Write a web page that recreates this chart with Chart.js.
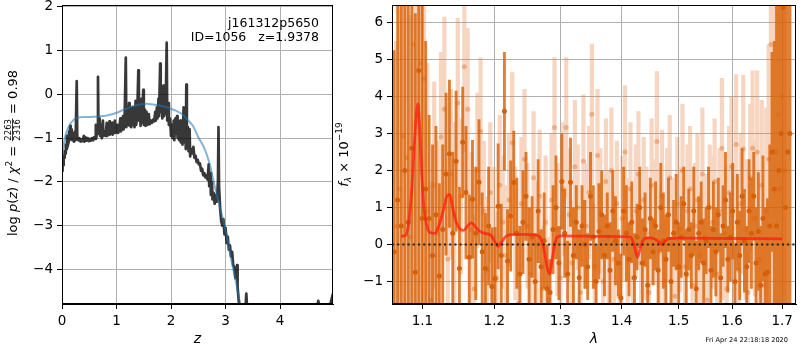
<!DOCTYPE html>
<html>
<head>
<meta charset="utf-8">
<script src="https://cdn.jsdelivr.net/npm/chart.js@4.4.1/dist/chart.umd.min.js"></script>
<style>
  html, body { margin: 0; padding: 0; background: #fff; }
  #wrap { position: relative; width: 800px; height: 350px; overflow: hidden; }
  .box { position: absolute; top: 0; height: 350px; }
</style>
</head>
<body>
<div id="wrap">
  <div class="box" style="left:0;width:340px"><canvas id="pz"></canvas></div>
  <div class="box" style="left:330px;width:470px"><canvas id="sp"></canvas></div>
</div>
<script>
// ---------- redshift probability panel ----------
const pzCurve = [
  [0,-1.75],[0.01,-1.55],[0.02,-1.62],[0.03,-1.40],[0.04,-1.45],[0.05,-1.30],[0.06,-1.35],[0.07,-1.15],
  [0.08,-1.25],[0.09,-0.95],[0.10,-1.20],[0.12,-1.10],[0.13,-0.85],[0.14,-1.05],[0.15,-0.72],[0.16,-1.00],
  [0.18,-0.80],[0.19,-1.05],[0.21,-0.90],[0.22,-1.08],[0.24,-0.85],[0.25,-1.05],[0.27,0.30],[0.28,-1.00],
  [0.30,-1.05],[0.32,-1.00],[0.34,-1.08],[0.36,-1.03],[0.38,-1.07],[0.40,-0.95],[0.41,-1.08],[0.43,-0.98],
  [0.45,-1.06],[0.47,-1.00],[0.49,-1.07],[0.51,-1.02],[0.53,-1.06],[0.55,-1.00],[0.57,-1.05],[0.59,-0.98],
  [0.61,-1.02],[0.62,-0.70],[0.63,-1.00],[0.65,-0.75],[0.66,0.40],[0.67,-0.90],[0.69,-0.55],[0.70,-0.95],
  [0.72,-0.70],[0.73,-1.00],[0.75,-0.60],[0.76,-0.95],[0.78,-0.85],[0.80,-0.95],[0.82,-0.65],[0.83,-0.95],
  [0.85,-0.90],[0.87,-0.62],[0.88,-0.92],[0.90,-0.88],[0.92,-0.65],[0.93,-0.92],[0.95,-0.85],[0.97,-0.60],
  [0.98,-0.88],[1.00,-0.85],[1.02,-0.70],[1.03,-0.88],[1.05,-0.80],[1.07,-0.55],[1.08,-0.85],[1.10,-0.78],
  [1.12,-0.50],[1.13,-0.80],[1.15,-0.45],[1.17,0.84],[1.18,-0.75],[1.20,-0.40],[1.21,-0.70],[1.23,-0.20],
  [1.24,-0.72],[1.26,-0.35],[1.27,-0.75],[1.29,-0.30],[1.30,-0.70],[1.32,-0.40],[1.33,-0.75],[1.35,-0.15],
  [1.36,-0.70],[1.38,-0.45],[1.40,0.55],[1.41,-0.60],[1.43,-0.30],[1.44,-0.72],[1.46,-0.10],[1.47,-0.65],
  [1.49,0.10],[1.50,-0.70],[1.52,-0.35],[1.53,-0.72],[1.55,-0.40],[1.57,-0.70],[1.59,-0.45],[1.61,-0.68],
  [1.63,-0.60],[1.65,-0.65],[1.67,-0.58],[1.69,-0.62],[1.71,-0.40],[1.72,-0.60],[1.74,-0.30],[1.75,-0.55],
  [1.77,-0.10],[1.78,-0.50],[1.80,0.70],[1.81,-0.40],[1.83,-0.10],[1.84,-0.55],[1.86,0.20],[1.87,-0.50],
  [1.89,-0.20],[1.90,-0.45],[1.92,1.18],[1.93,-0.60],[1.95,-0.20],[1.96,-0.70],[1.98,-0.55],[2.00,-0.95],
  [2.02,-0.70],[2.03,-1.00],[2.05,-0.60],[2.06,-1.05],[2.08,-0.55],[2.09,-0.90],[2.11,-0.50],[2.12,-1.00],
  [2.14,-0.65],[2.15,-1.05],[2.17,-0.60],[2.18,-1.10],[2.20,-0.75],[2.21,-1.15],[2.23,-0.30],[2.24,-1.10],
  [2.26,-0.40],[2.27,-1.25],[2.28,0.22],[2.29,-1.20],[2.31,-0.75],[2.32,-1.30],[2.34,-0.80],[2.35,-1.42],
  [2.37,-1.25],[2.39,-1.35],[2.41,-1.20],[2.43,-1.45],[2.45,-1.40],[2.47,-1.55],[2.49,-1.50],[2.51,-1.60],
  [2.53,-1.58],[2.55,-1.75],[2.57,-1.70],[2.59,-1.85],[2.61,-1.80],[2.63,-1.90],[2.65,-1.85],[2.67,-1.95],
  [2.69,-1.60],[2.70,-2.10],[2.72,-1.80],[2.73,-2.30],[2.75,-2.00],[2.76,-2.40],[2.78,-2.25],[2.80,-2.50],
  [2.82,-2.30],[2.84,-2.45],[2.86,-2.00],[2.87,-0.75],[2.88,-2.10],[2.90,-2.60],[2.92,-2.90],[2.94,-3.00],
  [2.96,-2.85],[2.98,-3.20],[3.00,-3.05],[3.02,-3.40],[3.04,-3.25],[3.06,-3.55],[3.08,-3.45],[3.10,-3.70],
  [3.12,-3.60],[3.14,-3.90],[3.16,-3.95],[3.18,-4.20],[3.20,-4.05],[3.21,-3.90],[3.22,-4.40],[3.24,-4.70],
  [3.26,-4.95],[3.30,-5.10],[3.36,-5.00],[3.38,-4.55],[3.40,-5.00],[3.45,-5.20],[3.60,-5.50],[4.00,-5.40],
  [4.50,-5.00],[4.68,-4.85],[4.70,-4.72],[4.72,-4.85],[4.90,-4.90],[4.97,-4.55]
];
const pzPrior = [
  [0,-1.45],[0.03,-1.15],[0.06,-0.95],[0.10,-0.80],[0.15,-0.68],[0.20,-0.60],[0.25,-0.55],[0.30,-0.53],
  [0.40,-0.52],[0.50,-0.52],[0.60,-0.51],[0.70,-0.50],[0.80,-0.49],[0.90,-0.46],[1.00,-0.42],[1.10,-0.37],
  [1.20,-0.32],[1.30,-0.27],[1.40,-0.24],[1.50,-0.22],[1.60,-0.22],[1.70,-0.24],[1.80,-0.26],[1.90,-0.29],
  [2.00,-0.33],[2.10,-0.38],[2.20,-0.45],[2.30,-0.58],[2.40,-0.72],[2.50,-0.98],[2.60,-1.20],[2.70,-1.55],
  [2.80,-2.10],[2.90,-2.60],[3.00,-3.10],[3.10,-3.75],[3.20,-4.35],[3.27,-4.80],[3.30,-5.00]
];
const pzXTicks = [0, 1, 2, 3, 4];
const pzYTicks = [-4, -3, -2, -1, 0, 1, 2];
const fieldName = 'j161312p5650';
const objLabel = 'ID=1056   z=1.9378';

// ---------- spectrum panel ----------
const LAM_STEP = 0.0046;
const DARK_LAM0 = 1.063;
const LIGHT_LAM0 = 1.0653;
const darkFlux = [
  -0.2,1.2,0.5,2.0,0.6,2.6,-0.75,4.7,0.7,1.5,
  0.7,-0.3,0.8,-0.85,0.4,1.9,2.45,0.3,2.25,-0.65,
  2.76,1.4,-0.35,1.22,0.3,1.68,-0.2,-0.65,0.5,-1.14,
  -0.93,1.03,-0.3,3.6,-0.45,0.77,1.67,0.3,-0.8,0.6,
  1.3,-0.4,0.2,-1.0,0.9,-0.6,0.1,-1.2,-1.3,0.4,
  1.0,-0.5,1.7,0.3,-0.8,1.68,-0.3,0.6,-0.9,0.5,
  0.0,-0.6,1.3,0.2,-1.0,0.35,0.8,-0.3,0.5,-0.7,
  0.9,0.1,-0.5,-1.45,0.9,0.3,-0.4,0.6,-0.9,0.2,
  1.0,-0.5,0.4,-1.1,0.7,-0.2,0.5,-0.7,1.0,0.1,
  -0.4,0.8,-1.0,0.3,0.6,-0.6,0.2,1.1,-0.8,0.4,
  -0.3,0.9,-1.2,0.3,0.6,-0.5,0.1,1.0,-0.7,0.4,
  -0.2,0.8,-0.9,0.5,1.2,-0.4,0.2,0.9,-1.0,0.6,
  -0.3,1.3,0.1,-0.6,0.9,0.3,1.3,-0.5,0.35,-1.1,
  0.7,-0.8,-0.75,0.5,2.5,1.5,0.5,2.0,3.0,6.4,
  1.0,2.5,3.0
];
const darkErr = [
  5.45,8,8,9,6,7,7,8,6,4,
  2.8,3.0,2.4,2.5,2.3,2.2,2.0,2.2,1.9,2.2,
  1.5,1.8,1.7,1.6,1.8,1.7,1.6,1.5,1.6,1.6,
  1.4,1.7,1.4,1.6,1.4,1.5,1.4,1.5,1.3,1.4,
  1.2,1.4,1.1,1.3,1.4,1.0,1.3,1.2,0.9,1.2,
  1.4,1.0,1.3,1.2,0.9,1.2,1.3,1.0,1.3,1.1,
  1.2,0.9,1.2,1.4,1.0,1.3,1.2,1.1,0.9,1.3,
  1.1,1.2,0.9,1.2,1.2,1.3,1.0,1.1,1.2,0.9,
  1.1,1.2,1.0,1.3,1.1,0.9,1.2,1.1,1.2,1.3,
  1.2,1.0,1.2,0.9,1.3,1.2,1.1,1.0,1.2,1.1,
  0.9,1.2,1.3,1.0,1.1,1.2,0.9,1.1,1.2,1.3,
  1.2,1.0,1.2,1.1,1.3,0.9,1.2,1.3,1.0,1.3,
  1.2,1.3,1.4,1.1,1.4,1.5,1.2,1.5,1.6,1.6,
  1.7,1.8,2.0,2.2,2.7,4,6,8,9,9,
  10,10,10
];
const lightFlux = [
  0.5,1.5,2.93,2.35,0.2,5.4,3.5,4.9,4.48,0.9,
  -1.5,1.6,0.3,2.9,3.65,-0.4,1.9,0.8,3.82,1.3,
  4.8,3.65,0.4,-1.2,2.0,3.05,0.9,-0.7,1.4,0.2,
  -0.9,1.6,0.6,-0.3,1.2,2.75,0.3,-1.6,1.1,2.3,
  0.5,-0.8,1.8,0.0,1.3,-1.2,0.6,-1.5,1.2,3.16,
  0.4,-0.9,1.5,3.16,0.8,-0.5,2.1,1.0,-1.3,2.25,
  0.5,1.4,3.52,-0.6,2.4,0.9,-1.0,1.7,0.2,2.0,
  -0.4,1.1,-1.4,0.7,2.5,0.1,1.5,-0.9,0.9,1.9,
  -0.5,1.2,0.3,-1.3,1.6,0.6,2.78,-0.2,1.3,-1.0,
  0.8,1.8,0.0,-1.4,1.1,0.4,2.0,-0.6,0.9,1.5,
  -1.1,0.5,1.2,-0.3,1.9,0.2,-1.5,1.0,0.6,1.7,
  -0.8,0.9,2.6,0.3,-1.2,1.4,2.1,0.0,2.7,-0.7,
  1.1,2.58,0.4,-1.3,1.8,2.6,0.7,2.5,-0.4,1.6,
  -1.1,0.9,2.3,5.4,2.5,2.5,3.5,1.5,4.0,2.0
];
const lightErr = [
  5,6,7,6,6,8,7,8,7,4,
  3.2,2.8,2.5,2.3,2.5,2.3,2.3,2.5,2.3,2.1,
  2.3,2.2,2.1,2.0,2.1,2.0,1.9,2.0,1.9,1.9,
  1.8,1.9,1.8,1.9,1.8,1.9,1.8,1.9,1.8,1.9,
  1.7,1.8,1.8,1.7,1.8,1.7,1.8,1.7,1.8,1.9,
  1.8,1.7,1.8,1.9,1.8,1.7,1.8,1.7,1.8,1.8,
  1.7,1.8,1.9,1.7,1.8,1.7,1.8,1.7,1.8,1.7,
  1.8,1.7,1.8,1.7,1.8,1.7,1.8,1.7,1.8,1.7,
  1.8,1.7,1.8,1.7,1.8,1.7,1.9,1.7,1.8,1.7,
  1.8,1.7,1.8,1.7,1.8,1.7,1.8,1.7,1.8,1.7,
  1.8,1.7,1.8,1.7,1.8,1.7,1.8,1.7,1.8,1.7,
  1.8,1.7,1.9,1.8,1.7,1.8,1.9,1.8,1.9,1.8,
  1.9,2.0,1.9,2.0,2.0,2.1,2.1,2.2,2.2,2.3,
  2.5,2.8,3.1,4,5,7,9,10,10,10
];
const modelCurve = [
  [1.072,0.22],[1.078,0.25],[1.082,0.6],[1.086,1.5],[1.089,2.6],[1.092,3.5],[1.094,3.8],[1.096,3.3],
  [1.099,2.0],[1.102,1.0],[1.106,0.5],[1.110,0.32],[1.117,0.3],[1.122,0.5],[1.128,0.9],[1.133,1.3],
  [1.137,1.35],[1.141,1.0],[1.146,0.6],[1.151,0.42],[1.156,0.38],[1.162,0.5],[1.167,0.58],[1.172,0.5],
  [1.178,0.37],[1.186,0.3],[1.195,0.25],[1.200,0.1],[1.205,-0.05],[1.210,0.05],[1.216,0.2],[1.222,0.26],
  [1.240,0.27],[1.260,0.26],[1.268,0.2],[1.274,-0.1],[1.279,-0.6],[1.283,-0.8],[1.287,-0.4],[1.291,0.0],
  [1.295,0.2],[1.300,0.23],[1.350,0.22],[1.400,0.21],[1.415,0.2],[1.421,0.0],[1.427,-0.35],[1.432,-0.1],
  [1.437,0.12],[1.445,0.18],[1.458,0.14],[1.466,0.05],[1.470,0.0],[1.475,0.08],[1.482,0.16],[1.500,0.17],
  [1.600,0.16],[1.700,0.15]
];
const spXTicks = [1.1, 1.2, 1.3, 1.4, 1.5, 1.6, 1.7];
const spYTicks = [-1, 0, 1, 2, 3, 4, 5, 6];
const zeroLevel = 0;
const stamp = 'Fri Apr 24 22:18:18 2020';

// ---------- shared helpers ----------
const SANS = "'DejaVu Sans', sans-serif";
const GRID = '#b0b0b0';
Chart.defaults.font.family = SANS;
Chart.defaults.color = '#000';

const minus = v => String(v).replace('-', '\u2212');
const fixTicks = list => axis => { axis.ticks = list.map(v => ({ value: v })); };
const fixWidth = w => s => { s.width = w; s.paddingTop = 0; s.paddingBottom = 0; };
const fixHeight = h => s => { s.height = h; s.paddingLeft = 0; s.paddingRight = 0; };

function axisStyle(extra) {
  return Object.assign({
    grid: { color: GRID, lineWidth: 1, tickColor: '#000', tickLength: 5, drawTicks: true },
    border: { display: true, color: '#000', width: 1 },
  }, extra);
}

// rotated axis label made of upright / italic / small pieces and stacked fractions
function drawMath(ctx, cx, cy, parts) {
  ctx.save();
  ctx.translate(cx, cy);
  ctx.rotate(-Math.PI / 2);
  ctx.fillStyle = '#000';
  ctx.textBaseline = 'alphabetic';
  let total = 0;
  for (const p of parts) {
    ctx.font = p.font;
    p.w = p.frac
      ? Math.max(ctx.measureText(p.frac[0]).width, ctx.measureText(p.frac[1]).width) + 2
      : ctx.measureText(p.t).width;
    total += p.w;
  }
  let x = -total / 2;
  for (const p of parts) {
    ctx.font = p.font;
    if (p.frac) {
      ctx.textAlign = 'center';
      ctx.fillText(p.frac[0], x + p.w / 2, p.num);
      ctx.fillText(p.frac[1], x + p.w / 2, p.den);
      ctx.fillRect(x + 0.5, p.bar - 0.4, p.w - 1, 0.8);
    } else {
      ctx.textAlign = 'left';
      ctx.fillText(p.t, x, p.dy || 0);
    }
    x += p.w;
  }
  ctx.restore();
}

const framePlugin = {
  id: 'frame',
  afterDatasetsDraw(chart) {
    const { ctx, chartArea: a } = chart;
    ctx.save();
    ctx.strokeStyle = '#000';
    ctx.lineWidth = 1;
    ctx.strokeRect(Math.round(a.left) + 0.5, Math.round(a.top) + 0.5,
                   Math.round(a.right - a.left) - 1, Math.round(a.bottom - a.top) - 1);
    ctx.restore();
  }
};

const F = s => s + 'px ' + SANS;

// ---------- left: log p(z) ----------
const pzLabels = {
  id: 'pzLabels',
  afterDraw(chart) {
    const { ctx } = chart;
    ctx.save();
    ctx.fillStyle = '#000';
    ctx.font = F(12.5);
    ctx.textAlign = 'right';
    ctx.textBaseline = 'alphabetic';
    ctx.fillText(fieldName, 319, 26.5);
    ctx.fillText(objLabel, 319, 40.5);
    ctx.restore();
    drawMath(ctx, 17, 153, [
      { t: 'log ', font: F(13) },
      { t: 'p', font: 'italic ' + F(13) },
      { t: '(', font: F(13) },
      { t: 'z', font: 'italic ' + F(13) },
      { t: ') / ', font: F(13) },
      { t: '\u03c7', font: 'italic ' + F(13) },
      { t: '2', font: F(9), dy: -5.5 },
      { t: ' = ', font: F(13) },
      { frac: ['2263', '2316'], font: F(8.5), num: -6.3, den: 2.6, bar: -4.6 },
      { t: ' = 0.98', font: F(13) }
    ]);
  }
};

new Chart(document.getElementById('pz'), {
  type: 'scatter',
  data: {
    datasets: [
      {
        type: 'line', data: pzPrior.map(([x, y]) => ({ x, y })),
        borderColor: 'rgba(31,119,180,0.55)', borderWidth: 2, pointRadius: 0,
        tension: 0.3, showLine: true, clip: 0, order: 0
      },
      {
        type: 'line', data: pzCurve.map(([x, y]) => ({ x, y })),
        borderColor: 'rgba(0,0,0,0.78)', borderWidth: 2.7, pointRadius: 0,
        tension: 0, showLine: true, clip: 0, order: 1, borderJoinStyle: 'round'
      }
    ]
  },
  options: {
    responsive: true, maintainAspectRatio: false, devicePixelRatio: 1,
    animation: false, events: [],
    layout: { padding: { left: 0, right: 7, top: 5, bottom: 0 } },
    plugins: { legend: { display: false }, tooltip: { enabled: false } },
    scales: {
      x: axisStyle({
        type: 'linear', min: 0, max: 4.97,
        afterBuildTicks: fixTicks(pzXTicks), afterFit: fixHeight(46),
        ticks: { font: { size: 13.5 }, padding: 4, maxRotation: 0, autoSkip: false, callback: minus },
        title: { display: true, text: 'z', font: { size: 14, style: 'italic' }, padding: { top: 0, bottom: 2 } }
      }),
      y: axisStyle({
        type: 'linear', min: -4.79, max: 2.04,
        afterBuildTicks: fixTicks(pzYTicks), afterFit: fixWidth(62),
        ticks: { font: { size: 13.5 }, padding: 4, autoSkip: false, callback: minus }
      })
    }
  },
  plugins: [framePlugin, pzLabels]
});

// ---------- right: spectrum ----------
const darkLam = darkFlux.map((_, i) => DARK_LAM0 + i * LAM_STEP);
const lightLam = lightFlux.map((_, i) => LIGHT_LAM0 + i * LAM_STEP);

function errorSegments(lam, flux, err) {
  const pts = [];
  flux.forEach((f, i) => {
    pts.push({ x: lam[i], y: f - err[i] }, { x: lam[i], y: f + err[i] }, { x: lam[i], y: null });
  });
  return pts;
}
const pointsOf = (lam, flux) => flux.map((f, i) => ({ x: lam[i], y: f }));

const spLabels = {
  id: 'spLabels',
  afterDraw(chart) {
    const { ctx } = chart;
    drawMath(ctx, 17.5, 154.5, [
      { t: 'f', font: 'italic ' + F(13) },
      { t: '\u03bb', font: 'italic ' + F(9), dy: 3 },
      { t: ' \u00d7 10', font: F(13) },
      { t: '\u221219', font: F(9), dy: -5.5 }
    ]);
    ctx.save();
    ctx.fillStyle = '#000';
    ctx.font = F(6.6);
    ctx.textAlign = 'right';
    ctx.textBaseline = 'alphabetic';
    ctx.fillText(stamp, 458, 342);
    ctx.restore();
  }
};

const XMIN = 1.0603, XMAX = 1.7288;

new Chart(document.getElementById('sp'), {
  type: 'scatter',
  data: {
    datasets: [
      {
        type: 'line', data: [{ x: XMIN, y: zeroLevel }, { x: XMAX, y: zeroLevel }],
        borderColor: '#222', borderWidth: 2, borderDash: [2, 3.2], pointRadius: 0,
        showLine: true, clip: 0, order: 0
      },
      {
        type: 'line', data: modelCurve.map(([x, y]) => ({ x, y })),
        borderColor: 'rgba(255,25,15,0.72)', borderWidth: 2.8, pointRadius: 0,
        cubicInterpolationMode: 'monotone', showLine: true, clip: 0, order: 1
      },
      {
        data: pointsOf(darkLam, darkFlux),
        backgroundColor: 'rgb(213,96,10)', borderWidth: 0, pointRadius: 2.5,
        clip: 0, order: 2
      },
      {
        type: 'line', data: errorSegments(darkLam, darkFlux, darkErr),
        borderColor: 'rgba(217,95,2,0.8)', borderWidth: 2.9, pointRadius: 0,
        borderCapStyle: 'butt', spanGaps: false, showLine: true, clip: 0, order: 3
      },
      {
        data: pointsOf(lightLam, lightFlux),
        backgroundColor: 'rgba(225,120,50,0.45)', borderWidth: 0, pointRadius: 2.5,
        clip: 0, order: 4
      },
      {
        type: 'line', data: errorSegments(lightLam, lightFlux, lightErr),
        borderColor: 'rgba(225,120,50,0.3)', borderWidth: 4.2, pointRadius: 0,
        borderCapStyle: 'butt', spanGaps: false, showLine: true, clip: 0, order: 5
      }
    ]
  },
  options: {
    responsive: true, maintainAspectRatio: false, devicePixelRatio: 1,
    animation: false, events: [],
    layout: { padding: { left: 0, right: 1, top: 5, bottom: 0 } },
    plugins: { legend: { display: false }, tooltip: { enabled: false } },
    scales: {
      x: axisStyle({
        type: 'logarithmic', min: XMIN, max: XMAX,
        afterBuildTicks: fixTicks(spXTicks), afterFit: fixHeight(46),
        ticks: { font: { size: 13.5 }, padding: 4, maxRotation: 0, autoSkip: false,
                 callback: v => Number(v).toFixed(1) },
        title: { display: true, text: '\u03bb', font: { size: 14, style: 'italic' }, padding: { top: 0, bottom: 2 } }
      }),
      y: axisStyle({
        type: 'linear', min: -1.61, max: 6.47,
        afterBuildTicks: fixTicks(spYTicks), afterFit: fixWidth(62),
        ticks: { font: { size: 13.5 }, padding: 4, autoSkip: false, callback: minus }
      })
    }
  },
  plugins: [framePlugin, spLabels]
});
</script>
</body>
</html>
